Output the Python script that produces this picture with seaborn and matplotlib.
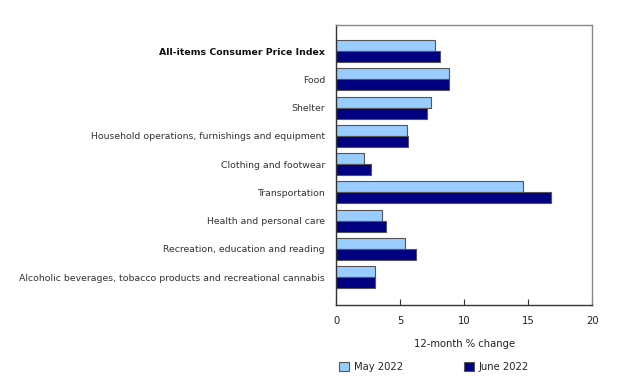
import pandas as pd
import matplotlib
matplotlib.use("Agg")
import matplotlib.pyplot as plt
import seaborn as sns

# DATA
categories = [
    "All-items Consumer Price Index",
    "Food",
    "Shelter",
    "Household operations, furnishings and equipment",
    "Clothing and footwear",
    "Transportation",
    "Health and personal care",
    "Recreation, education and reading",
    "Alcoholic beverages, tobacco products and recreational cannabis",
]
may_2022 = [7.7, 8.8, 7.4, 5.5, 2.2, 14.6, 3.6, 5.4, 3.0]
june_2022 = [8.1, 8.8, 7.1, 5.6, 2.7, 16.8, 3.9, 6.2, 3.0]
series_names = ["May 2022", "June 2022"]
x_ticks = [0, 5, 10, 15, 20]

df = pd.DataFrame({
    "category": categories * 2,
    "value": may_2022 + june_2022,
    "period": [series_names[0]] * len(categories) + [series_names[1]] * len(categories),
})

sns.set_theme(style="white")
plt.rcParams['font.family'] = ['DejaVu Sans']

fig = plt.figure(figsize=(6.32, 3.8), dpi=100)
ax = fig.add_axes([0.532, 0.197, 0.405, 0.737])

sns.barplot(data=df, x="value", y="category", hue="period", orient="h",
            palette={"May 2022": "#99CCFF", "June 2022": "#000080"},
            saturation=1, width=0.78, edgecolor="#555555", linewidth=0.8, ax=ax)

ax.set_xlim(0, 20)
ax.set_ylim(len(categories) - 1 + 0.99, -0.92)
ax.set_xticks(x_ticks)
ax.set_xticklabels([str(t) for t in x_ticks], fontsize=7.2, color="#222222")
ax.tick_params(axis="x", direction="in", length=4, width=0.8, color="#333333",
               bottom=True, pad=8)
ax.tick_params(axis="y", length=0, pad=8)
for lbl in ax.get_yticklabels():
    lbl.set_fontsize(6.75)
    lbl.set_color("#333333")
ax.get_yticklabels()[0].set_fontweight("bold")
ax.get_yticklabels()[0].set_color("#111111")

ax.set_xlabel("12-month % change", fontsize=7.2, color="#222222", labelpad=9)
ax.set_ylabel("")

for side in ["left", "bottom"]:
    ax.spines[side].set_color("#333333")
    ax.spines[side].set_linewidth(1.0)
for side in ["top", "right"]:
    ax.spines[side].set_color("#888888")
    ax.spines[side].set_linewidth(1.0)

ax.legend(title=None, loc="upper left", bbox_to_anchor=(-0.025, -0.17), ncol=2,
          frameon=False, fontsize=7.2, handlelength=1.0, handleheight=1.0,
          columnspacing=6.1, handletextpad=0.5)

fig.savefig("out.png", dpi=100)
